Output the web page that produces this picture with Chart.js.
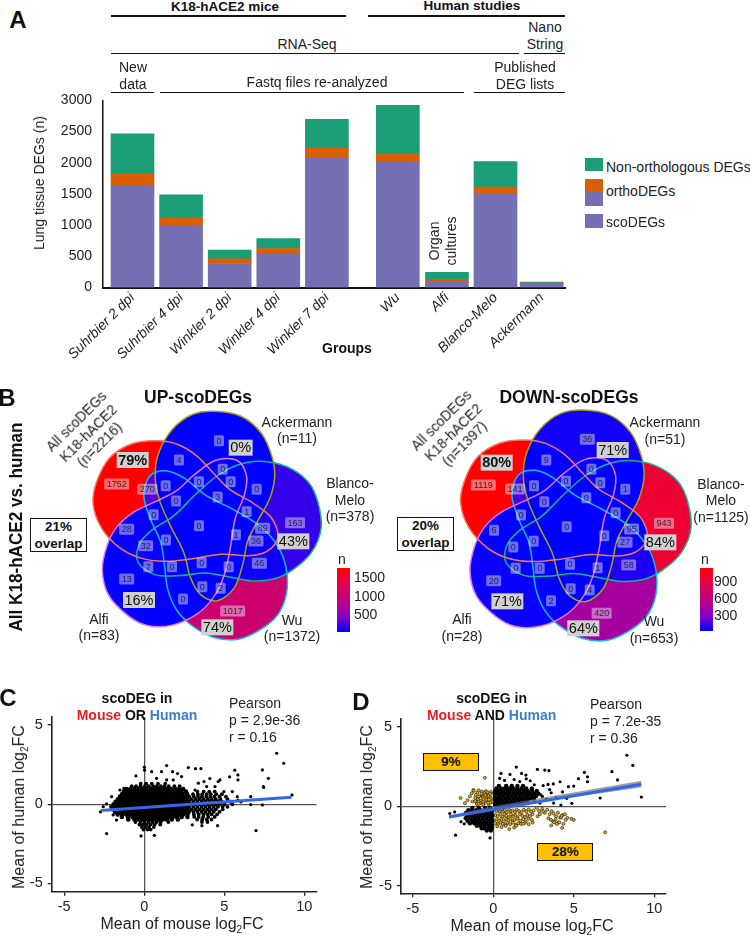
<!DOCTYPE html>
<html>
<head>
<meta charset="utf-8">
<title>scoDEGs</title>
<script src="https://cdn.jsdelivr.net/npm/chart.js@4/dist/chart.umd.js"></script>
<style>
  html, body { margin: 0; padding: 0; background: #fff; }
  #page { position: relative; width: 750px; height: 936px; overflow: hidden; font-family: "Liberation Sans", Arial, sans-serif; color: #222; }
  canvas { position: absolute; }
  .t { position: absolute; white-space: pre; line-height: 1; transform: translate(-50%, -50%); text-align: center; }
  .r { position: absolute; background: #111; height: 1.5px; }
  .s { position: absolute; }
  .box { position: absolute; box-sizing: border-box; border: 1.6px solid #111; font-weight: bold; font-size: 13.5px; text-align: center; color: #111; }
</style>
</head>
<body>
<div id="page"></div>
<script>
// panel A
const groups = ["Suhrbier 2 dpi", "Suhrbier 4 dpi", "Winkler 2 dpi", "Winkler 4 dpi", "Winkler 7 dpi", "Wu", "Alfi", "Blanco-Melo", "Ackermann"];
const barPos = [0, 1, 2, 3, 4, 5.46, 6.47, 7.47, 8.42];
const scoDEGs = [1627, 991, 385, 540, 2088, 2025, 100, 1500, 58];
const orthoDEGs = [196, 127, 75, 85, 149, 127, 32, 111, 11];
const nonOrtho = [642, 366, 139, 159, 461, 768, 112, 408, 16];
const barTicks = [0, 500, 1000, 1500, 2000, 2500, 3000];

// panel B, counts go clockwise-ish from the mouse only region
const upCounts = [1752, 270, 0, 4, 0, 0, 0, 0, 0, 0, 3, 1, 0, 0, 1, 89, 163, 28, 0, 36, 32, 7, 0, 0, 0, 46, 13, 0, 2, 0, 1017];
const upLabelX = [350, 442, 497, 537, 657, 597, 668, 692, 770, 528, 653, 740, 461, 597, 708, 788, 885, 380, 498, 768, 437, 445, 516, 605, 686, 778, 380, 607, 662, 549, 698];
const upLabelY = [342, 358, 347, 270, 212, 335, 298, 335, 358, 393, 381, 425, 434, 467, 494, 475, 458, 478, 510, 513, 527, 590, 590, 578, 590, 580, 627, 650, 655, 687, 723];
const upPct = ["79%", "0%", "43%", "74%", "16%"];
const upPctX = [398, 722, 880, 652, 417];
const upPctY = [270, 233, 514, 772, 690];
const downCounts = [1119, 141, 0, 9, 36, 0, 0, 0, 1, 0, 0, 0, 0, 0, 0, 95, 943, 6, 0, 27, 0, 0, 0, 0, 1, 58, 20, 0, 4, 2, 420];
const downLabelX = [325, 420, 477, 514, 637, 573, 649, 676, 751, 508, 634, 722, 438, 575, 688, 770, 867, 357, 476, 750, 415, 422, 494, 585, 668, 761, 356, 587, 644, 528, 680];
const downLabelY = [345, 357, 347, 270, 208, 334, 298, 338, 358, 395, 383, 428, 435, 470, 497, 477, 460, 481, 514, 517, 531, 595, 595, 583, 593, 585, 632, 656, 660, 692, 730];
const downPct = ["80%", "71%", "84%", "64%", "71%"];
const downPctX = [365, 713, 856, 625, 397];
const downPctY = [278, 240, 517, 775, 694];
const setColors = ["#a8a214", "#17b58a", "#14b9e6", "#e676ee", "#f0785f"]; // Ackermann, Blanco-Melo, Wu, Alfi, mouse
const eggOutline = [[30,-345],[110,-330],[170,-280],[202,-210],[210,-150],[195,-85],[160,-20],[130,40],[115,110],[90,180],[40,218],[-10,200],[-40,150],[-60,75],[-100,-5],[-132,-80],[-145,-150],[-135,-220],[-95,-290],[-35,-335]];

// panel C, rows of the dense cloud: [human, [mouse values]]
const cloudC = [
  [1.30, [-.22,.12,.47,.86,1.31]],
  [1.14, [-.78,-.51,-.24,.03,.28,.55,.79,1.04,1.27,1.53,1.88,2.21]],
  [.96, [-1.12,-.87,-.61,-.36,-.11,.14,.41,.66,.91,1.16,1.42,1.67,1.93,2.18,2.43]],
  [.80, [-1.26,-.99,-.74,-.49,-.23,.02,.27,.52,.78,1.03,1.29,1.54,1.79,2.04,2.31,2.6,3.32,3.71,4.06,4.4]],
  [.64, [-1.38,-1.12,-.87,-.62,-.36,-.11,.15,.4,.65,.9,1.16,1.41,1.66,1.92,2.17,2.42,2.68,3.05,3.35,3.62,3.9,4.16,4.5,4.85]],
  [.48, [-1.52,-1.25,-.99,-.74,-.49,-.24,.02,.27,.53,.78,1.03,1.29,1.54,1.79,2.05,2.3,2.56,2.82,3.1,3.36,3.6,3.87,4.12,4.38,4.7,5.1]],
  [.32, [-1.64,-1.38,-1.12,-.87,-.61,-.36,-.11,.15,.4,.65,.91,1.16,1.41,1.67,1.92,2.17,2.43,2.68,2.94,3.2,3.45,3.7,3.96,4.21,4.47,4.75,5.2]],
  [.16, [-1.78,-1.51,-1.25,-1,-.74,-.49,-.24,.02,.27,.53,.78,1.03,1.29,1.54,1.79,2.05,2.3,2.56,2.81,3.07,3.32,3.58,3.83,4.08,4.34,4.6,4.85,5.4]],
  [0, [-1.92,-1.64,-1.38,-1.12,-.87,-.61,-.36,-.11,.15,.4,.65,.91,1.16,1.41,1.67,1.92,2.17,2.43,2.68,2.94,3.2,3.45,3.7,3.96,4.21,4.47,4.72,5.02,5.5]],
  [-.16, [-2.05,-1.78,-1.51,-1.25,-1,-.74,-.49,-.24,.02,.27,.53,.78,1.03,1.29,1.54,1.79,2.05,2.3,2.56,2.81,3.07,3.32,3.58,3.83,4.08,4.34,4.6,4.9,5.2]],
  [-.32, [-1.95,-1.64,-1.38,-1.12,-.87,-.61,-.36,-.11,.15,.4,.65,.91,1.16,1.41,1.67,1.92,2.17,2.43,2.68,2.94,3.2,3.45,3.7,3.96,4.21,4.47,4.9]],
  [-.48, [-1.82,-1.51,-1.25,-1,-.74,-.49,-.24,.02,.27,.53,.78,1.03,1.29,1.54,1.79,2.05,2.3,2.56,2.81,3.07,3.32,3.58,3.83,4.08,4.34,4.7]],
  [-.64, [-1.66,-1.38,-1.12,-.87,-.61,-.36,-.11,.15,.4,.65,.91,1.16,1.41,1.67,1.92,2.17,2.43,2.7,3.1,3.4,3.7,3.96,4.21,4.55]],
  [-.80, [-1.4,-1.02,-.74,-.49,-.24,.02,.27,.53,.78,1.03,1.29,1.54,1.79,2.05,2.34,2.7,3.12,3.4,3.68,4.0,4.4]],
  [-.96, [-1.0,-.61,-.36,-.11,.15,.4,.65,.91,1.16,1.41,1.72,2.1,3.3,3.62,3.9,4.2]],
  [-1.12, [-.55,-.24,.02,.27,.53,.78,1.03,1.5,3.6,3.95]],
  [-1.28, [-.3,-.08,.15,.4,.65,1.0]],
  [-1.44, [-.15,.07,.3,.6]],
  [-1.60, [-.05,.2,.4]]
];
const outlierMouseC = [8.27,8.71,7.38,7.75,7.44,7.46,9.23,6.65,6.98,7.38,6.65,6.04,5.65,5.85,5.33,5.85,2.75,3.2,3.54,1.4,1.77,2.08,0,0.02,.46,1.08,-.52,-2.73,-2.35,.63,-.2,-2.04,-2.35,-2.56,4.58,3.6,3,4.1,3.73,3.38,4.62,4.73,4.42,5.5,5.81,5.85,4.98,2.33,1.81,.77,1.4,3.17,3.9,-1.73,-1.94,-1.52,-1.27];
const outlierHumanC = [3.22,2.59,2.17,1.64,1.12,1.06,.59,.48,-1.66,-.04,-.02,.15,2.15,1.85,1.73,1.54,2.32,2.25,2.25,2.44,2.06,1.94,2.34,2.15,2.06,2.06,1.79,-.48,-1.85,-1.96,-2,.48,.02,-.15,-1.35,-1.35,-1.3,1.62,1.43,1.33,1.43,1.54,1.12,.8,.48,.27,.8,1.75,1.54,1.64,1.54,.9,1.12,-1,-.67,.9,1];
const fitMouseC = [-2.7, 9.2];
const fitHumanC = [-.4, .45];

// panel D, concordant black genes
const cloudD = [
  [1.28, [.35,.8,1.15,1.5,1.85]],
  [1.12, [.2,.48,.72,.98,1.24,1.5,1.76,2.05,2.4]],
  [.96, [.12,.36,.62,.88,1.13,1.38,1.63,1.9,2.15,2.42,2.7]],
  [.8, [.08,.24,.5,.75,1,1.26,1.51,1.76,2.02,2.27,2.55,2.8]],
  [.64, [.1,.37,.62,.88,1.13,1.38,1.64,1.9,2.14,2.4,2.66]],
  [.48, [.08,.25,.5,.76,1.01,1.26,1.52,1.77,2.03,2.28,2.52]],
  [.32, [.12,.38,.63,.88,1.14,1.39,1.65,1.9,2.1]],
  [.16, [.1,.26,.5,.75,1,1.24,1.5,1.7]],
  [.06, [.18,.42,.7,.95]],
  [-.1, [-.2,-.5,-.9,-1.3]],
  [-.25, [-.08,-.3,-.55,-.8,-1.05,-1.3,-1.55]],
  [-.42, [-.14,-.4,-.66,-.92,-1.18,-1.44,-1.7]],
  [-.58, [-.05,-.28,-.54,-.8,-1.06,-1.32,-1.58]],
  [-.74, [-.14,-.4,-.66,-.92,-1.18,-1.44,-1.72]],
  [-.9, [-.05,-.28,-.54,-.8,-1.06,-1.32,-1.6]],
  [-1.06, [-.14,-.4,-.66,-.92,-1.18,-1.45]],
  [-1.22, [-.08,-.3,-.55,-.8,-1.02]],
  [-1.38, [-.1,-.34,-.55,-.72]],
  [-1.52, [-.15,-.4]]
];
const sparseMouseD = [8.3,8.67,7.37,7.72,9.2,6.64,5.66,5.85,5.29,5.85,2.74,3.2,3.46,1.43,1.76,2.03,.48,1.04,-2.7,-2.34,-.2,-2.4,-2,-1.8,4.88,4.56,4.2,4.67,5,4.15,3.73,3.4,3.1,2.95,3.6,3.9,4.3,3.3,3.75,2.9,.4,.7,1.3,1.65,2.3,2.55,2.05,3.05,3.5];
const sparseHumanD = [3.2,2.56,2.17,1.65,.58,.52,2.12,1.85,1.73,1.54,2.31,2.27,2.23,2.46,2.06,1.96,2.06,2,-.45,-1.81,-1.98,-.35,-.96,-1.1,.19,.5,.08,1.23,1.27,1.54,1.4,1.37,1.3,.72,.85,.55,.9,.45,.2,.2,1.75,1.62,1.68,1.55,1.6,1.35,1.72,.62,1.05];
const discordMouseD = [-.52,-2.03,-1.24,-1.76,-1.6,-1.45,-1.33,-1.2,-1.12,-1.05,-.98,-.9,-.85,-.78,-.7,-.66,-.6,-.52,-.46,-.4,-.35,-.28,-.2,-.14,-.08,-1.08,-.95,-.82,-.7,-.55,-.42,-.3,-.18,-1.02,-.88,-.72,-.6,-.44,-.32,-.16,-.78,-.62,-.48,-.34,-.2,-1.3,-1.12,-.9,-.62,-.28,
  .12,.2,.32,.4,.55,.62,.72,.85,.98,1.08,1.2,1.35,1.45,1.6,1.75,1.9,2.05,2.2,2.35,2.5,.15,.28,.44,.58,.7,.82,.96,1.1,1.24,1.38,1.52,1.66,1.82,1.98,2.12,2.28,2.44,.2,.35,.5,.66,.8,.94,1.06,1.2,1.34,1.5,1.68,1.86,2.02,2.18,2.4,.12,.3,.45,.6,.76,.9,1.05,1.22,1.4,1.55,1.72,1.95,2.2,2.45,.25,.52,.78,1,1.3,1.42,1.85,
  2.7,2.85,3.05,3.2,3.35,3.5,3.62,3.75,3.9,4.02,4.15,4.3,4.45,4.6,4.85,5,3.42,3.58,3.72,3.88,4.05,4.22,4.36,4.5,3.6,3.78,3.95,4.1,4.28,4.25,6.95,2.9,3.1,2.75];
const discordHumanD = [1.79,.52,1.02,.19,.38,.62,.82,.98,.52,.28,.85,1,.6,.38,.92,.72,.2,.5,.95,.32,.78,.12,.62,.9,.3,.72,.45,.2,.55,.82,.42,.66,.22,.14,.62,.8,.12,.6,.22,.48,.5,.28,.7,.88,.78,.3,.32,.15,.1,.42,
  -.18,-.3,-.22,-.36,-.2,-.33,-.24,-.38,-.2,-.32,-.26,-.36,-.2,-.3,-.38,-.22,-.32,-.2,-.34,-.26,-.55,-.62,-.5,-.66,-.52,-.6,-.68,-.5,-.62,-.54,-.7,-.5,-.6,-.68,-.54,-.62,-.5,-.82,-.9,-.78,-.94,-.8,-.88,-.76,-.92,-.84,-.78,-.9,-.8,-.95,-.78,-.86,-1.05,-1.12,-1.02,-1.1,-1.18,-1.04,-1.12,-1.02,-1.15,-1.06,-1.1,-1.04,-1.12,-1.02,-1.25,-1.3,-1.22,-1.42,-1.32,-1.22,-1.1,
  -.1,-.3,-.15,-.4,-.22,-.5,-.3,-.45,-.62,-.4,-.7,-.55,-.5,-.72,-.78,-.85,-.75,-.85,-.95,-.82,-1.02,-.7,-1.1,-.85,-1.2,-1.0,-1.1,-1,-1.35,-.6,-1.63,-.5,-.32,-.62];
const fitMouseD = [-2.75, 9.2];
const fitHumanD = [-.67, 1.38];
const bandMouseD = [-2.75, 0, 9.2];
const bandUpperD = [-.57, .0, 1.6];
const bandLowerD = [-.77, -.12, 1.18];
const quadTicks = [-5, 0, 5, 10];
const quadTicksY = [-5, 0, 5];

const page = document.getElementById("page");
const font = '"Liberation Sans", Arial, sans-serif';
Chart.defaults.font.family = font;
Chart.defaults.color = "#222";
Chart.defaults.animation = false;

function text(str, x, y, size, extra) {
  const el = document.createElement("div");
  el.className = "t";
  el.innerHTML = str;
  el.style.left = x + "px";
  el.style.top = y + "px";
  el.style.fontSize = size + "px";
  if (extra) {
    if (extra.rot) el.style.transform = "translate(-50%, -50%) rotate(" + extra.rot + "deg)" + (extra.sx ? " scaleX(" + extra.sx + ")" : "");
    if (extra.bold) el.style.fontWeight = "bold";
    if (extra.lh) el.style.lineHeight = extra.lh + "px";
    if (extra.left) { el.style.transform = "translate(0, -50%)"; el.style.textAlign = "left"; }
    if (extra.color) el.style.color = extra.color;
  }
  page.appendChild(el);
}
function rule(x1, x2, y) {
  const el = document.createElement("div");
  el.className = "r";
  el.style.left = x1 + "px";
  el.style.width = (x2 - x1) + "px";
  el.style.top = y + "px";
  page.appendChild(el);
}
function swatch(x, y, w, h, color) {
  const el = document.createElement("div");
  el.className = "s";
  el.style.cssText += "left:" + x + "px;top:" + y + "px;width:" + w + "px;height:" + h + "px;background:" + color;
  page.appendChild(el);
}
function addBox(str, x, y, w, h, bg) {
  const el = document.createElement("div");
  el.className = "box";
  el.innerHTML = str;
  el.style.cssText += "left:" + x + "px;top:" + y + "px;width:" + w + "px;height:" + h + "px;line-height:" + (bg ? h - 3 : 16.5) + "px;" + (bg ? "background:" + bg : "background:#fff;padding-top:0");
  page.appendChild(el);
}
function addCanvas(x, y, w, h) {
  const c = document.createElement("canvas");
  c.width = w;
  c.height = h;
  c.style.left = x + "px";
  c.style.top = y + "px";
  page.appendChild(c);
  return c;
}
function pairs(xs, ys) {
  return xs.map((x, i) => ({ x: x, y: ys[i] }));
}
function rows(table) {
  return table.flatMap((row) => row[1].map((x) => ({ x: x, y: row[0] })));
}

// ---- panel A ----
const colGreen = "#1b9e77", colOrange = "#d95f02", colPurple = "#7570b3";
new Chart(addCanvas(0, 85.7, 580, 284.3), {
  type: "bar",
  data: {
    datasets: [
      { label: "scoDEGs", data: pairs(barPos, scoDEGs), backgroundColor: colPurple, barThickness: 43 },
      { label: "orthoDEGs", data: pairs(barPos, orthoDEGs), backgroundColor: colOrange, barThickness: 43 },
      { label: "Non-orthologous DEGs", data: pairs(barPos, nonOrtho), backgroundColor: colGreen, barThickness: 43 },
    ],
  },
  options: {
    responsive: false,
    devicePixelRatio: 1,
    layout: { padding: { top: 8.7, right: 15, left: 0, bottom: 0 } },
    plugins: { legend: { display: false }, tooltip: { enabled: false } },
    scales: {
      x: {
        type: "linear",
        offset: false,
        stacked: true,
        min: -0.607,
        max: 8.9,
        grid: { display: false, drawTicks: false },
        border: { color: "#111", width: 2 },
        afterBuildTicks: (s) => { s.ticks = barPos.map((v) => ({ value: v })); },
        afterFit: (s) => { s.height = 82.5; },
        ticks: {
          autoSkip: false,
          minRotation: 45,
          maxRotation: 45,
          padding: 2,
          color: "#222",
          font: { size: 14, style: "italic" },
          callback: (v, i) => groups[i],
        },
      },
      y: {
        stacked: true,
        min: 0,
        max: 3000,
        grid: { display: false, tickLength: 5, tickColor: "#111" },
        border: { color: "#111", width: 1.5 },
        afterBuildTicks: (s) => { s.ticks = barTicks.map((v) => ({ value: v })); },
        afterFit: (s) => { s.width = 103; },
        ticks: { font: { size: 14 }, padding: 6, color: "#222", callback: (v) => String(v) },
      },
    },
  },
});

text("A", 18, 20, 24, { bold: true, color: "#111" });
text("K18-hACE2 mice", 225, 7, 13.5, { bold: true, color: "#111" });
text("Human studies", 472, 6, 13.5, { bold: true, color: "#111" });
rule(111, 346, 15);
rule(368, 565, 15);
text("Nano\nString", 545, 35.5, 14, { lh: 17 });
text("RNA-Seq", 307, 44, 14);
rule(111, 519, 52.5);
rule(524, 565, 52.5);
text("New\ndata", 133, 75, 14, { lh: 16.5 });
text("Fastq files re-analyzed", 317, 82, 14);
text("Published\nDEG lists", 525, 75, 14, { lh: 16.5 });
rule(111, 154, 91.5);
rule(160, 464, 91.5);
rule(474, 565, 91.5);
text("Lung tissue DEGs (n)", 39, 183, 14, { rot: -90 });
text("Groups", 347, 348, 14, { bold: true, color: "#111" });
text("Organ\ncultures", 443, 241, 14, { rot: -90, lh: 17 });
swatch(585, 158, 18, 13, colGreen);
swatch(585, 179, 18, 13, colOrange);
swatch(585, 192, 18, 14, colPurple);
swatch(585, 214, 18, 14, colPurple);
text("Non-orthologous DEGs", 606, 167, 14, { left: true });
text("orthoDEGs", 606, 191, 14, { left: true });
text("scoDEGs", 606, 222, 14, { left: true });

// ---- panel B ----
const rampStops = [[0, 0, 255], [139, 0, 196], [192, 0, 124], [226, 0, 82], [255, 0, 0]];
function ramp(t) {
  const p = Math.min(Math.max(t, 0), 1) * 4;
  const i = Math.min(Math.floor(p), 3);
  const f = p - i;
  const c = [0, 1, 2].map((k) => Math.round(rampStops[i][k] + (rampStops[i + 1][k] - rampStops[i][k]) * f));
  return "rgb(" + c.join(",") + ")";
}
function eggPath(sx, sy, cx, cy, k, deg) {
  const a = deg * Math.PI / 180;
  const pts = eggOutline.map((p) => {
    const X = cx + k * (p[0] * Math.cos(a) - p[1] * Math.sin(a));
    const Y = cy + k * (p[0] * Math.sin(a) + p[1] * Math.cos(a));
    return [sx.getPixelForValue(X), sy.getPixelForValue(Y)];
  });
  const path = new Path2D();
  const n = pts.length;
  path.moveTo(pts[0][0], pts[0][1]);
  for (let i = 0; i < n; i++) {
    const p0 = pts[(i - 1 + n) % n], p1 = pts[i], p2 = pts[(i + 1) % n], p3 = pts[(i + 2) % n];
    path.bezierCurveTo(p1[0] + (p2[0] - p0[0]) / 6, p1[1] + (p2[1] - p0[1]) / 6, p2[0] - (p3[0] - p1[0]) / 6, p2[1] - (p3[1] - p1[1]) / 6, p2[0], p2[1]);
  }
  path.closePath();
  return path;
}

function vennChart(left, counts, xs, ys, pct, pctX, pctY, cx, cy, k, bar) {
  const top = Math.max(...counts);
  const venn = {
    id: "venn",
    beforeDatasetsDraw(chart) {
      const ctx = chart.ctx, sx = chart.scales.x, sy = chart.scales.y;
      const eggs = [0, 72, 144, 216, 288].map((d) => eggPath(sx, sy, cx, cy, k, d));
      ctx.fillStyle = "#0000ff";
      eggs.forEach((e) => ctx.fill(e));
      counts.forEach((n, i) => {
        const px = sx.getPixelForValue(xs[i]), py = sy.getPixelForValue(ys[i]);
        const inside = eggs.map((e) => ctx.isPointInPath(e, px, py));
        ctx.save();
        eggs.forEach((e, j) => {
          if (inside[j]) {
            ctx.clip(e);
          } else {
            const outer = new Path2D();
            outer.rect(0, 0, chart.width, chart.height);
            outer.addPath(e);
            ctx.clip(outer, "evenodd");
          }
        });
        ctx.fillStyle = ramp(n / top);
        ctx.fillRect(0, 0, chart.width, chart.height);
        ctx.restore();
      });
      ctx.lineWidth = 1.5;
      eggs.forEach((e, j) => {
        ctx.strokeStyle = setColors[j];
        ctx.stroke(e);
      });
    },
    afterDatasetsDraw(chart) {
      const ctx = chart.ctx, sx = chart.scales.x, sy = chart.scales.y;
      ctx.textAlign = "center";
      ctx.textBaseline = "middle";
      counts.forEach((n, i) => {
        const px = sx.getPixelForValue(xs[i]), py = sy.getPixelForValue(ys[i]);
        const w = [10, 10, 15, 20, 25][String(n).length];
        ctx.fillStyle = "rgba(255,255,255,0.42)";
        ctx.beginPath();
        ctx.roundRect(px - w / 2, py - 5.5, w, 11, 1.5);
        ctx.fill();
        ctx.fillStyle = "rgba(20,20,40,0.85)";
        ctx.font = "9px " + font;
        ctx.fillText(String(n), px, py + 0.5);
      });
      pct.forEach((s, i) => {
        const px = sx.getPixelForValue(pctX[i]), py = sy.getPixelForValue(pctY[i]);
        const bold = i === 0;
        ctx.font = (bold ? "bold " : "") + "14.5px " + font;
        const w = ctx.measureText(s).width + 3;
        ctx.fillStyle = "#d0d0d0";
        ctx.fillRect(px - w / 2, py - 8, w, 16);
        ctx.fillStyle = "#111";
        ctx.fillText(s, px, py + 0.5);
      });
      // colour bar
      const g = ctx.createLinearGradient(0, bar.y + bar.h, 0, bar.y);
      rampStops.forEach((c, i) => g.addColorStop(i / 4, "rgb(" + c.join(",") + ")"));
      ctx.fillStyle = g;
      ctx.fillRect(bar.x, bar.y, bar.w, bar.h);
    },
  };
  return new Chart(addCanvas(left, 370, 375, 300), {
    type: "scatter",
    data: { datasets: [{ data: pairs(xs, ys), pointRadius: 0 }] },
    options: {
      responsive: false,
      devicePixelRatio: 1,
      layout: { padding: 0 },
      plugins: { legend: { display: false }, tooltip: { enabled: false } },
      scales: {
        x: { display: false, min: 0, max: 1125 },
        y: { display: false, min: 0, max: 900, reverse: true },
      },
    },
    plugins: [venn],
  });
}
vennChart(0, upCounts, upLabelX, upLabelY, upPct, upPctX, upPctY, 612, 472, 1.01, { x: 337, y: 198, w: 13, h: 64 });
vennChart(375, downCounts, downLabelX, downLabelY, downPct, downPctX, downPctY, 593, 472, 1.02, { x: 325, y: 198, w: 13, h: 63 });

text("B", 7, 398, 24, { bold: true, color: "#111" });
text("All K18-hACE2 vs. human", 15, 527, 19, { bold: true, rot: -90, sx: 0.9, color: "#111" });
text("UP-scoDEGs", 198, 398, 17.5, { bold: true, color: "#111" });
text("DOWN-scoDEGs", 569, 398, 17.5, { bold: true, color: "#111" });
text("All scoDEGs\nK18-hACE2\n(n=2216)", 88, 433, 14, { rot: -45, lh: 16.5 });
text("Ackermann\n(n=11)", 297, 429.5, 14, { lh: 16.5 });
text("Blanco-\nMelo\n(n=378)", 350, 500, 14, { lh: 16.7 });
text("Wu\n(n=1372)", 292, 628.5, 14, { lh: 16.7 });
text("Alfi\n(n=83)", 99, 627.5, 14, { lh: 16.7 });
text("All scoDEGs\nK18-hACE2\n(n=1397)", 453, 432, 14, { rot: -45, lh: 16.5 });
text("Ackermann\n(n=51)", 665, 430, 14, { lh: 16.5 });
text("Blanco-\nMelo\n(n=1125)", 721, 500.5, 14, { lh: 16.7 });
text("Wu\n(n=653)", 654, 630, 14, { lh: 16.7 });
text("Alfi\n(n=28)", 462, 628, 14, { lh: 16.7 });
addBox("21%<br>overlap", 30, 518, 57, 34);
addBox("20%<br>overlap", 397, 517, 57, 34);
text("n", 342, 559, 14);
text("1500", 354, 577, 14, { left: true });
text("1000", 354, 596, 14, { left: true });
text("500", 354, 614, 14, { left: true });
text("n", 705, 559, 14);
text("900", 714, 581, 14, { left: true });
text("600", 714, 598, 14, { left: true });
text("300", 714, 615, 14, { left: true });

// ---- panels C and D ----
function quadChart(x, y, w, h, area, ranges, datasets) {
  return new Chart(addCanvas(x, y, w, h), {
    type: "scatter",
    data: { datasets: datasets },
    options: {
      responsive: false,
      devicePixelRatio: 1,
      layout: { padding: { top: area.top, right: area.right, left: 0, bottom: 0 } },
      plugins: { legend: { display: false }, tooltip: { enabled: false } },
      scales: {
        x: {
          min: ranges[0],
          max: ranges[1],
          border: { color: "#222", width: 1.6 },
          grid: { color: (c) => (c.tick && c.tick.value === 0 ? "#555" : "transparent"), lineWidth: 1.3, tickColor: "#222", tickLength: 4 },
          afterBuildTicks: (s) => { s.ticks = quadTicks.map((v) => ({ value: v })); },
          afterFit: (s) => { s.height = area.xh; },
          ticks: { font: { size: 14.5 }, padding: 3, color: "#222" },
        },
        y: {
          min: ranges[2],
          max: ranges[3],
          border: { color: "#222", width: 1.6 },
          grid: { color: (c) => (c.tick && c.tick.value === 0 ? "#555" : "transparent"), lineWidth: 1.3, tickColor: "#222", tickLength: 4 },
          afterBuildTicks: (s) => { s.ticks = quadTicksY.map((v) => ({ value: v })); },
          afterFit: (s) => { s.width = area.yw; },
          ticks: { font: { size: 14.5 }, padding: 5, color: "#222" },
        },
      },
    },
  });
}

const fitLine = { showLine: true, pointRadius: 0, borderColor: "#3366e8", borderWidth: 3, borderCapStyle: "butt" };
// the cloud thins out in the right lobe and at the top and bottom edge
const cloudRadius = (c) => (c.raw.x > 2.7 || Math.abs(c.raw.y) > 1 ? 1.9 : 2.3);
quadChart(0, 700, 340, 236, { top: 17, right: 23.3, yw: 51.7, xh: 44.3 }, [-5.78, 10.77, -5.52, 5.51], [
  Object.assign({ data: pairs(fitMouseC, fitHumanC) }, fitLine),
  { data: pairs(outlierMouseC, outlierHumanC), pointRadius: 1.6, backgroundColor: "#000", borderWidth: 0 },
  { data: rows(cloudC), pointRadius: cloudRadius, backgroundColor: "#000", borderWidth: 0 },
]);
quadChart(360, 700, 340, 236, { top: 19, right: 34, yw: 41, xh: 42.7 }, [-5.73, 10.73, -5.45, 5.47], [
  Object.assign({ data: pairs(fitMouseD, fitHumanD) }, fitLine),
  { data: pairs(bandMouseD, bandUpperD), showLine: true, pointRadius: 0, borderWidth: 0, fill: "+1", backgroundColor: "rgba(110,110,110,0.65)" },
  { data: pairs(bandMouseD, bandLowerD), showLine: true, pointRadius: 0, borderWidth: 0 },
  { data: pairs(discordMouseD, discordHumanD), pointRadius: 1.5, backgroundColor: "#f2b200", borderColor: "#222", borderWidth: 0.7 },
  { data: pairs(sparseMouseD, sparseHumanD), pointRadius: 1.6, backgroundColor: "#000", borderWidth: 0 },
  { data: rows(cloudD), pointRadius: 2.2, backgroundColor: "#000", borderWidth: 0 },
]);

const red = "#ed1c24", blue = "#3a7fc8";
text("C", 8, 698, 24, { bold: true, color: "#111" });
text("scoDEG in", 137, 698, 14, { bold: true, color: "#111" });
text('<span style="color:' + red + '">Mouse</span> OR <span style="color:' + blue + '">Human</span>', 137, 715, 14, { bold: true, color: "#111" });
text("Pearson\np = 2.9e-36\nr = 0.16", 229, 720, 14, { left: true, lh: 17 });
text("Mean of mouse log<sub style='font-size:10px;line-height:0'>2</sub>FC", 182, 924, 16);
text("Mean of human log<sub style='font-size:10px;line-height:0'>2</sub>FC", 19, 807, 16, { rot: -90 });

text("D", 361, 702, 24, { bold: true, color: "#111" });
text("scoDEG in", 491.6, 698, 14, { bold: true, color: "#111" });
text('<span style="color:' + red + '">Mouse</span> AND <span style="color:' + blue + '">Human</span>', 491.6, 715, 14, { bold: true, color: "#111" });
text("Pearson\np = 7.2e-35\nr = 0.36", 590, 721, 14, { left: true, lh: 17 });
text("Mean of mouse log<sub style='font-size:10px;line-height:0'>2</sub>FC", 532, 926, 16);
text("Mean of human log<sub style='font-size:10px;line-height:0'>2</sub>FC", 367, 807, 16, { rot: -90 });
addBox("9%", 422.7, 753, 56, 18, "#ffc000");
addBox("28%", 537.3, 842.7, 56, 18, "#ffc000");
</script>
</body>
</html>
